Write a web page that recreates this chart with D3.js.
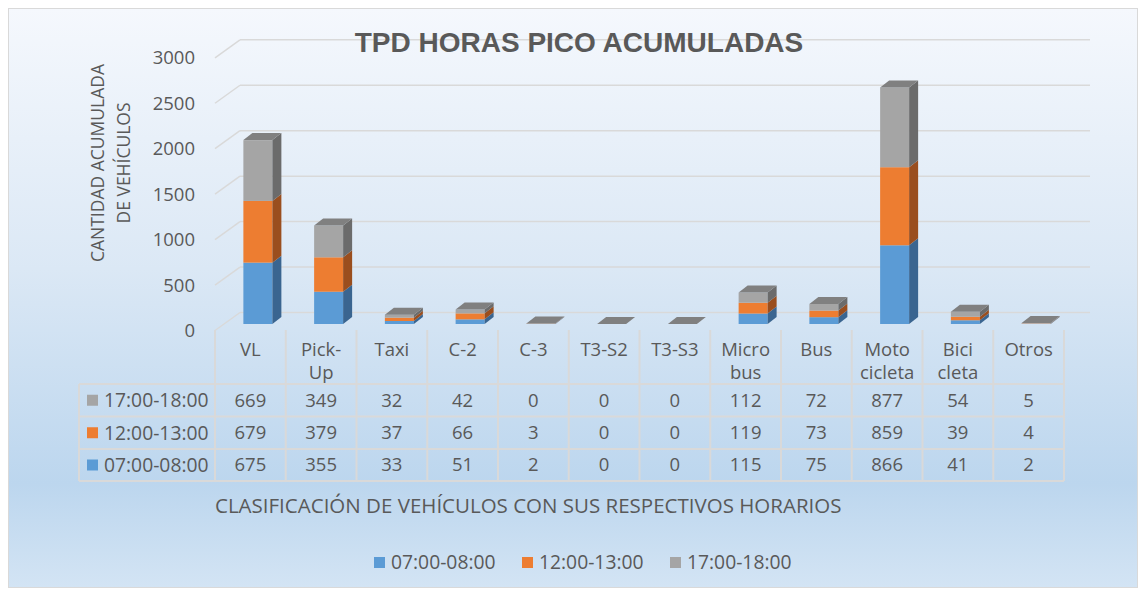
<!DOCTYPE html>
<html><head><meta charset="utf-8">
<script src="https://cdn.jsdelivr.net/npm/d3@7/dist/d3.min.js"></script>
<style>
html,body{margin:0;padding:0;background:#fff;}
svg text{font-family:"Open Sans","Noto Sans",sans-serif;fill:#595959;}
</style></head>
<body>
<svg id="c" width="1141" height="590"></svg>
<script>
const categories = ["VL","Pick-Up","Taxi","C-2","C-3","T3-S2","T3-S3","Micro bus","Bus","Moto cicleta","Bici cleta","Otros"];
const headerLabels = [["VL"],["Pick-","Up"],["Taxi"],["C-2"],["C-3"],["T3-S2"],["T3-S3"],["Micro","bus"],["Bus"],["Moto","cicleta"],["Bici","cleta"],["Otros"]];
const seriesNames = ["07:00-08:00","12:00-13:00","17:00-18:00"];
const s0700 = [675,355,33,51,2,0,0,115,75,866,41,2];
const s1200 = [679,379,37,66,3,0,0,119,73,859,39,4];
const s1700 = [669,349,32,42,0,0,0,112,72,877,54,5];
const yTicks = [0,500,1000,1500,2000,2500,3000];
const title = "TPD HORAS PICO ACUMULADAS";
const yTitle = ["CANTIDAD ACUMULADA","DE VEHÍCULOS"];
const xTitle = "CLASIFICACIÓN DE VEHÍCULOS CON SUS RESPECTIVOS HORARIOS";

const series = [s0700, s1200, s1700];
const colors = [
  {front:"#5b9bd5", side:"#3a6590", top:"#4a82b6"},
  {front:"#ed7d31", side:"#9a4e1e", top:"#c7682a"},
  {front:"#a5a5a5", side:"#6b6b6b", top:"#808080"}
];

const svg = d3.select("#c");
const defs = svg.append("defs");
const grad = defs.append("linearGradient").attr("id","bg").attr("x1",0).attr("y1",0).attr("x2",0).attr("y2",1);
[[0,"#f5f8fd"],[0.45,"#dbe8f5"],[0.82,"#bcd6ee"],[1,"#d3e4f4"]].forEach(([o,c])=>grad.append("stop").attr("offset",o).attr("stop-color",c));

svg.append("rect").attr("x",8.5).attr("y",8.5).attr("width",1129).attr("height",579)
  .attr("fill","url(#bg)").attr("stroke","#d9d9d9").attr("stroke-width",1);

// scales
const x = d3.scaleBand().domain(categories).range([215,1064]).paddingInner(0).paddingOuter(0);
const y = d3.scaleLinear().domain([0,3000]).range([324,324-272.7]);
const backDY = -11.5;
const depthX = 9, depthY = -7;
const gridColor = "#d9d9d9";

// gridlines (back wall + left wall diagonal)
const g = svg.append("g");
yTicks.forEach(t=>{
  const yb = y(t)+backDY;
  g.append("line").attr("x1",240).attr("x2",1090).attr("y1",yb).attr("y2",yb)
    .attr("stroke",gridColor).attr("stroke-width",1.5);
  g.append("line").attr("x1",215).attr("x2",240).attr("y1",yb+18).attr("y2",yb)
    .attr("stroke",gridColor).attr("stroke-width",1.5);
  svg.append("text").attr("x",195).attr("y",yb+18).attr("dy","0.35em")
    .attr("text-anchor","end").attr("font-size",18.5).text(t);
});

// bars
const stacked = categories.map((c,i)=>{
  let acc = 0;
  return series.map((s,k)=>{ const y0 = acc; acc += s[i]; return {c, k, y0, y1: acc}; });
});
const bw = 29;
const bars = svg.append("g");
stacked.forEach(segs=>{
  segs.forEach(d=>{
    const x0 = x(d.c) + x.bandwidth()/2 + 7.5 - bw/2, x1 = x0 + bw;
    const yt = y(d.y1), yb = y(d.y0);
    const col = colors[d.k];
    if (yb - yt > 0) {
      bars.append("rect").attr("x",x0).attr("y",yt).attr("width",bw).attr("height",yb-yt).attr("fill",col.front);
      bars.append("path").attr("d",`M${x1},${yt}L${x1+depthX},${yt+depthY}L${x1+depthX},${yb+depthY}L${x1},${yb}Z`).attr("fill",col.side);
    }
  });
  const last = segs[segs.length-1];
  const x0 = x(last.c) + x.bandwidth()/2 + 7.5 - bw/2, x1 = x0 + bw;
  const yt = y(last.y1);
  bars.append("path").attr("d",`M${x0},${yt}L${x0+depthX},${yt+depthY}L${x1+depthX},${yt+depthY}L${x1},${yt}Z`).attr("fill",colors[2].top);
});

// title
svg.append("text").attr("x",579).attr("y",51.5).attr("text-anchor","middle")
  .attr("font-size",28).attr("font-weight","bold")
  .style("font-family","'Liberation Sans',Arial,sans-serif").attr("fill","#595959").text(title);

// y title
yTitle.forEach((t,i)=>{
  svg.append("text").attr("transform",`translate(${98+i*26},163) rotate(-90)`).attr("dy","0.35em")
    .attr("text-anchor","middle").attr("font-size",17.5).text(t);
});

// data table
const tbl = svg.append("g");
const colEdges = [...categories.map(c=>x(c)), 1064];
const rowLines = [384,416.5,449,481];
colEdges.forEach(cx=>{
  tbl.append("line").attr("x1",cx).attr("x2",cx).attr("y1",330).attr("y2",481).attr("stroke",gridColor).attr("stroke-width",2);
});
tbl.append("line").attr("x1",79).attr("x2",79).attr("y1",384).attr("y2",481).attr("stroke",gridColor).attr("stroke-width",2);
rowLines.forEach(ry=>{
  tbl.append("line").attr("x1",79).attr("x2",1064).attr("y1",ry).attr("y2",ry).attr("stroke",gridColor).attr("stroke-width",2);
});
categories.forEach((c,i)=>{
  const lines = headerLabels[i];
  lines.forEach((l,j)=>{
    tbl.append("text").attr("x",x(c)+x.bandwidth()/2).attr("y",350+j*23).attr("dy","0.35em")
      .attr("text-anchor","middle").attr("font-size",18.5).text(l);
  });
});
const rowOrder = [2,1,0];
rowOrder.forEach((k,r)=>{
  const cy = (rowLines[r]+rowLines[r+1])/2;
  tbl.append("rect").attr("x",87).attr("y",cy-5.5).attr("width",11).attr("height",11).attr("fill",colors[k].front);
  tbl.append("text").attr("x",104).attr("y",cy).attr("dy","0.35em").attr("font-size",19.3).text(seriesNames[k]);
  categories.forEach((c,i)=>{
    tbl.append("text").attr("x",x(c)+x.bandwidth()/2).attr("y",cy).attr("dy","0.35em")
      .attr("text-anchor","middle").attr("font-size",18.5).text(series[k][i]);
  });
});

// x title
svg.append("text").attr("x",215).attr("y",506).attr("dy","0.35em").attr("font-size",20.5).text(xTitle);

// legend
const legX = [374,522,670];
seriesNames.forEach((n,k)=>{
  svg.append("rect").attr("x",legX[k]).attr("y",557).attr("width",11).attr("height",11).attr("fill",colors[k].front);
  svg.append("text").attr("x",legX[k]+17).attr("y",562.5).attr("dy","0.35em").attr("font-size",19.3).text(n);
});
</script>
</body></html>
